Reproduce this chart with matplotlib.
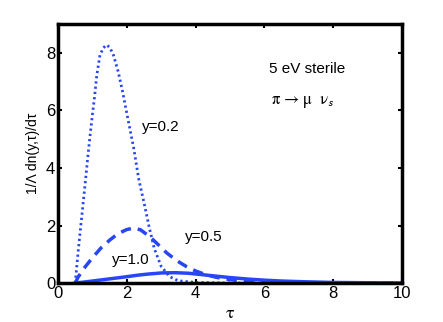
import matplotlib
matplotlib.use("Agg")
import matplotlib.pyplot as plt

plt.rcParams['font.family'] = ['Liberation Sans', 'DejaVu Sans']
plt.rcParams['mathtext.fontset'] = 'stix'

# y = 0.2 (dotted)
tau_02 = [0.5, 0.59, 0.69, 0.79, 0.88, 0.95, 1.0, 1.06, 1.125, 1.22, 1.32, 1.415, 1.51, 1.61,
          1.75, 1.87, 2.05, 2.2, 2.35, 2.5, 2.65, 2.8, 3.0, 3.25, 3.5, 4.0, 5.0, 6.0, 8.0, 10.0]
n_02 = [0.0, 1.15, 2.31, 3.47, 4.55, 5.32, 5.85, 6.45, 7.2, 7.93, 8.18, 8.28, 8.18, 7.93,
        7.35, 6.7, 5.6, 4.7, 3.6, 2.8, 1.95, 1.2, 0.58, 0.22, 0.08, 0.02, 0.0, 0.0, 0.0, 0.0]

# y = 0.5 (dashed)
tau_05 = [0.5, 0.59, 0.8, 1.03, 1.25, 1.51, 1.75, 2.0, 2.2, 2.4, 2.67, 2.9, 3.16, 3.45,
          3.74, 4.0, 4.3, 4.6, 5.0, 5.5, 6.0, 7.0, 8.0, 10.0]
n_05 = [0.0, 0.22, 0.58, 0.92, 1.22, 1.50, 1.72, 1.86, 1.91, 1.85, 1.61, 1.35, 1.05, 0.78,
        0.57, 0.42, 0.29, 0.2, 0.12, 0.06, 0.03, 0.01, 0.0, 0.0]

# y = 1.0 (solid)
tau_10 = [0.5, 0.8, 1.2, 1.6, 2.0, 2.3, 2.6, 3.0, 3.4, 3.8, 4.2, 4.6, 5.0, 5.5, 6.0, 6.5,
          7.0, 8.0, 9.0, 10.0]
n_10 = [0.0, 0.04, 0.1, 0.16, 0.22, 0.27, 0.31, 0.35, 0.36, 0.34, 0.29, 0.24, 0.19, 0.14,
        0.1, 0.07, 0.05, 0.02, 0.01, 0.0]

azul = '#2846f5'

fig = plt.figure(figsize=(4.43, 3.22), dpi=100)
ax = fig.add_axes([0.131, 0.121, 0.776, 0.804])

ax.plot(tau_02, n_02, color=azul, lw=2.0, dashes=(0.8, 1.1))
ax.plot(tau_05, n_05, '--', color=azul, lw=2.5, dashes=(3, 2))
ax.plot(tau_10, n_10, '-', color=azul, lw=2.5)

ax.set_xlim(0, 10)
ax.set_ylim(0, 9)
ax.set_xticks([0, 2, 4, 6, 8, 10])
ax.set_yticks([0, 2, 4, 6, 8])
ax.tick_params(direction='in', top=True, right=True, length=3, width=1.5,
               labelsize=12, pad=2)
for s in ax.spines.values():
    s.set_linewidth(2.5)

ax.set_xlabel(r'$\mathrm{τ}$', fontsize=13, labelpad=3)
ax.set_ylabel('1/Λ dn(y,τ)/dτ', fontsize=10, labelpad=4)

ax.text(6.15, 7.44, '5 eV sterile', fontsize=11, va='center')
ax.text(6.2, 6.3, r'$\mathrm{π\ →\ μ\ \ ν}_{\mathsf{s}}$', fontsize=12, va='center')
ax.text(2.44, 5.43, 'y=0.2', fontsize=11, va='center')
ax.text(3.69, 1.6, 'y=0.5', fontsize=11, va='center')
ax.text(1.57, 0.8, 'y=1.0', fontsize=11, va='center')

fig.savefig('out.png', dpi=100)
